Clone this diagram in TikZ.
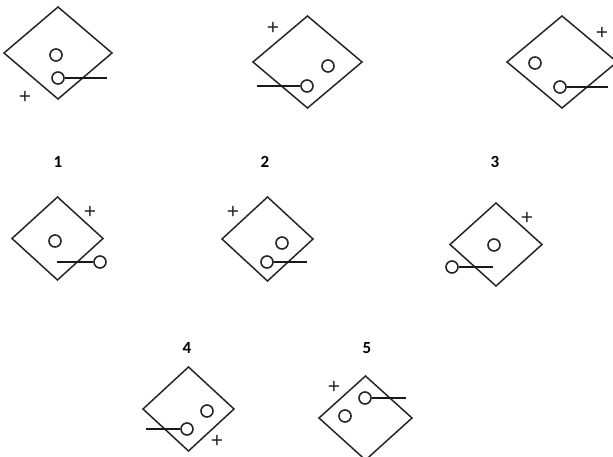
\documentclass[tikz,border=0pt]{standalone}
\usepackage{fontspec}
\newfontfamily\lblfont{Carlito}
\newfontfamily\plusfont{Liberation Sans}
\begin{document}
\begin{tikzpicture}[x=1pt,y=-1pt,
  outline/.style={line width=1.5pt,draw=black!85,line join=miter},
  term/.style={circle,draw=black!85,line width=1.6pt,minimum size=12pt,inner sep=0pt},
  wire/.style={line width=2.8pt,draw=black!90},
  plus/.style={inner sep=0pt,font=\plusfont\fontsize{21}{21}\selectfont,text=black!85},
  lbl/.style={inner sep=0pt,font=\lblfont\bfseries\fontsize{17}{17}\selectfont}]
\useasboundingbox (0,0) rectangle (613,457);
% ---------- A ----------
\coordinate (A) at (58,53);
\draw[outline] (A) +(0,-46) -- +(54,0) -- +(0,46) -- +(-54,0) -- cycle;
\node[term] (a1) at (56,55) {};
\node[term] (a2) at (58,78) {};
\coordinate (aw) at (107,78);
\draw[wire] (a2.east) -- (aw);
\node[plus] (ap) at (25,97) {+};
% ---------- B ----------
\coordinate (B) at (307.5,62);
\draw[outline] (B) +(0,-46) -- +(54.5,0) -- +(0,46) -- +(-54.5,0) -- cycle;
\node[term] (b1) at (328,66) {};
\node[term] (b2) at (307,86) {};
\coordinate (bw) at (257,86);
\draw[wire] (bw) -- (b2.west);
\node[plus] (bp) at (273,28) {+};
% ---------- C ----------
\coordinate (C) at (562,62);
\draw[outline] (C) +(0,-46) -- +(55,0) -- +(0,46) -- +(-55,0) -- cycle;
\node[term] (c1) at (535,63) {};
\node[term] (c2) at (560,87) {};
\coordinate (cw) at (608,87);
\draw[wire] (c2.east) -- (cw);
\node[plus] (cp) at (602,33) {+};
% labels row 1
\node[lbl] (l1) at (58,162) {1};
\node[lbl] (l2) at (265,162) {2};
\node[lbl] (l3) at (495,162) {3};
% ---------- D ----------
\coordinate (D) at (57.5,238.5);
\draw[outline] (D) +(0,-41.5) -- +(45.5,0) -- +(0,41.5) -- +(-45.5,0) -- cycle;
\node[term] (d1) at (55,241) {};
\node[term] (d2) at (100,262) {};
\coordinate (dw) at (57,262);
\draw[wire] (dw) -- (d2.west);
\node[plus] (dp) at (90,212) {+};
% ---------- E ----------
\coordinate (E) at (267.5,239);
\draw[outline] (E) +(0,-42) -- +(45.5,0) -- +(0,42) -- +(-45.5,0) -- cycle;
\node[term] (e1) at (282,243) {};
\node[term] (e2) at (267,262) {};
\coordinate (ew) at (307,262);
\draw[wire] (e2.east) -- (ew);
\node[plus] (ep) at (233,212) {+};
% ---------- F ----------
\coordinate (F) at (496,244.5);
\draw[outline] (F) +(0,-41.5) -- +(46,0) -- +(0,41.5) -- +(-46,0) -- cycle;
\node[term] (f1) at (494,245) {};
\node[term] (f2) at (452,267) {};
\coordinate (fw) at (493,267);
\draw[wire] (f2.east) -- (fw);
\node[plus] (fp) at (527,218) {+};
% labels row 2
\node[lbl] (l4) at (187,348) {4};
\node[lbl] (l5) at (367,348) {5};
% ---------- G ----------
\coordinate (G) at (188.5,409);
\draw[outline] (G) +(0,-42) -- +(45.5,0) -- +(0,42) -- +(-45.5,0) -- cycle;
\node[term] (g1) at (207,411) {};
\node[term] (g2) at (187,429) {};
\coordinate (gw) at (146,429);
\draw[wire] (gw) -- (g2.west);
\node[plus] (gp) at (217,441) {+};
% ---------- H ----------
\coordinate (H) at (365.5,418);
\draw[outline] (H) +(0,-42) -- +(46.5,0) -- +(0,42) -- +(-46.5,0) -- cycle;
\node[term] (h1) at (365,398) {};
\node[term] (h2) at (345,416) {};
\coordinate (hw) at (406,398);
\draw[wire] (h1.east) -- (hw);
\node[plus] (hp) at (334,387) {+};
\end{tikzpicture}
\end{document}
